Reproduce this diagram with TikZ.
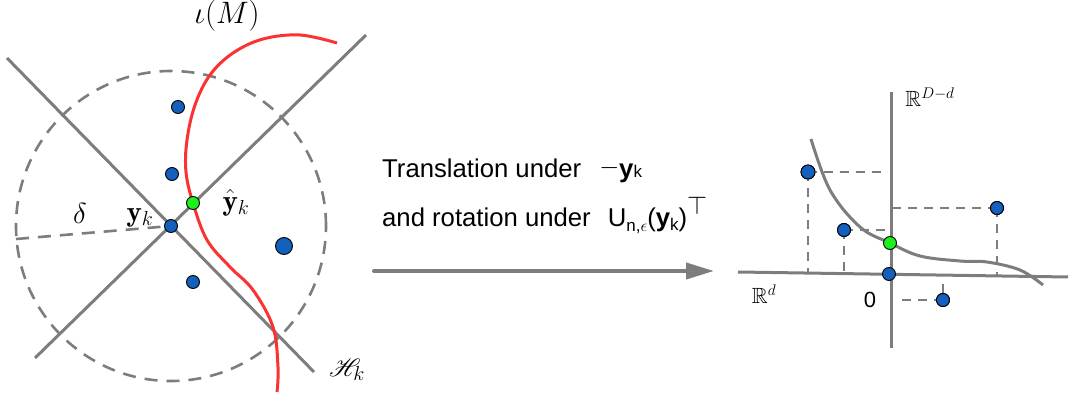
\RequirePackage{fix-cm}
\documentclass[tikz,border=0pt]{standalone}
\usepackage{amsmath,amssymb,mathrsfs}
\usepackage{fontspec}
\newfontfamily\arial{Liberation Sans}
\usetikzlibrary{arrows.meta}
\definecolor{dotblue}{RGB}{21,96,189}
\definecolor{dotgreen}{RGB}{30,240,30}
\definecolor{lgray}{RGB}{125,125,125}
\definecolor{mred}{RGB}{250,50,50}
\begin{document}
\begin{tikzpicture}[x=1pt,y=-1pt,
  gline/.style={draw=lgray, line width=3pt},
  dline/.style={draw=lgray, line width=2.6pt, dash pattern=on 13pt off 9pt},
  pline/.style={draw=lgray, line width=1.8pt, dash pattern=on 9pt off 7pt},
  dot/.style={circle, fill=dotblue, draw=black, line width=0.9pt, inner sep=0pt, minimum size=13pt},
  bigdot/.style={dot, minimum size=17pt},
  gdot/.style={dot, fill=dotgreen, minimum size=13pt},
  mlab/.style={font=\fontsize{29}{33}\selectfont, inner sep=0pt},
  blab/.style={font=\fontsize{31}{35}\selectfont, inner sep=0pt},
  rlab/.style={font=\fontsize{22}{26}\selectfont, inner sep=0pt},
  stext/.style={font=\arial\fontsize{25.7}{30}\selectfont, inner sep=0pt, anchor=base west}]
\useasboundingbox (0,0) rectangle (1069,398);
% ---------- left part ----------
\coordinate (yk) at (171,226);
\coordinate (L1a) at (7,58);
\coordinate (L1b) at (314,372);
\coordinate (L2a) at (35,358);
\coordinate (L2b) at (366,35);
\coordinate (rad) at (16,239);
\draw[dline] (yk) circle[radius=155pt];
\draw[dline] (rad) -- (yk);
\draw[gline] (L1a) -- (L1b);
\draw[gline] (L2a) -- (L2b);
\draw[draw=mred, line width=3pt] plot[smooth, tension=0.6] coordinates {
  (337,43) (300,35) (263,39) (233,53) (210,75) (195,105) (187,140) (186,172)
  (193,203) (207,240) (230,267) (253,290) (273,327) (278,367) (277,392)};
\node[dot] (nyk) at (yk) {};
\node[gdot] (nyh) at (193,203) {};
\node[dot] (b1) at (178,107) {};
\node[dot] (b2) at (172,174) {};
\node[dot] (b3) at (193,282) {};
\node[bigdot] (b4) at (284,246) {};
\node[blab] (iM) at (227,16) {$\iota(M)$};
\node[mlab] (del) at (80,213) {$\delta$};
\node[mlab] (lyk) at (140,218) {$\mathbf{y}_k$};
\node[mlab] (lyh) at (236,203) {$\hat{\mathbf{y}}_k$};
\node[mlab] (lH) at (347,370) {$\mathscr{H}_k$};
% ---------- middle ----------
\node[stext] (t1) at (382,178) {Translation under\hspace{18pt}\raisebox{3pt}{$-$}{\bfseries y}{\fontsize{17}{19}\selectfont k}};
\node[stext] (t2) at (382,227) {and rotation under\hspace{17pt}U{\fontsize{17}{19}\selectfont\raisebox{-5pt}{n,$\epsilon$}}({\bfseries y}{\fontsize{17}{19}\selectfont\raisebox{-4pt}{k}})\raisebox{12pt}{$\top$}};
\coordinate (as) at (374,271);
\coordinate (ae) at (714,271);
\draw[draw=lgray, line width=4pt, line cap=round, -{Triangle[length=28pt,width=16pt]}, color=lgray] (as) -- (ae);
% ---------- right part ----------
\coordinate (vt) at (891,92);
\coordinate (vb) at (891,348);
\coordinate (hl) at (738,272);
\coordinate (hr) at (1068,277);
\node[dot, minimum size=14pt] (p1) at (808,172) {};
\node[dot] (p2) at (844,230) {};
\node[dot] (p3) at (997,208) {};
\node[dot] (p4) at (943,300) {};
\draw[pline] (p1.center) -- (882,172);
\draw[pline] (p1.center) -- (808,272);
\draw[pline] (p2.center) -- (889,230);
\draw[pline] (p2.center) -- (844,273);
\draw[pline] (p3.center) -- (893,208);
\draw[pline] (p3.center) -- (997,276);
\draw[pline] (p4.center) -- (897,300);
\draw[draw=lgray, line width=1.8pt] (p4.center) -- (943,284);
\draw[gline] (vt) -- (vb);
\draw[gline] (hl) -- (hr);
\draw[draw=lgray, line width=3pt] plot[smooth, tension=0.6] coordinates {
  (811,139) (830,190) (860,227) (890,243) (920,256) (960,261) (987,262) (1020,270) (1043,285)};
\node[dot, minimum size=14pt] at (p1) {};
\node[dot] at (p2) {};
\node[dot] at (p3) {};
\node[dot] at (p4) {};
\node[dot] (o) at (889,274) {};
\node[gdot] (g) at (890,243) {};
\node[rlab] (RDd) at (930,97) {$\mathbb{R}^{D-d}$};
\node[rlab] (Rd) at (764,294) {$\mathbb{R}^{d}$};
\node[font=\arial\fontsize{22}{26}\selectfont, inner sep=0pt] (zero) at (870,300) {0};
\end{tikzpicture}
\end{document}
